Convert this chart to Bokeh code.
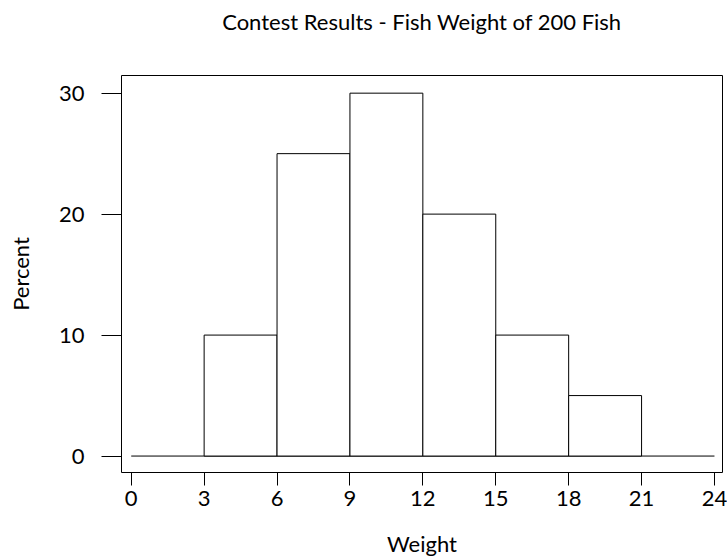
from bokeh.plotting import figure
from bokeh.models import Range1d, FixedTicker, Title
from bokeh.embed import file_html
from bokeh.resources import INLINE

# Data
bin_left = [0, 3, 6, 9, 12, 15, 18, 21]
bin_right = [3, 6, 9, 12, 15, 18, 21, 24]
percent = [0, 10, 25, 30, 20, 10, 5, 0]
x_ticks = [0, 3, 6, 9, 12, 15, 18, 21, 24]
y_ticks = [0, 10, 20, 30]
title_text = "Contest Results - Fish Weight of 200 Fish"

FONT = "Lato"
FS = "22px"

p = figure(width=727, height=559, output_backend="svg", toolbar_location=None,
           x_range=Range1d(-0.40, 24.33), y_range=Range1d(-1.36, 31.46),
           min_border_left=121, min_border_right=5, min_border_top=75, min_border_bottom=87,
           title=title_text)

p.background_fill_color = "white"
p.border_fill_color = "white"
p.outline_line_color = "black"
p.outline_line_width = 1
p.xgrid.visible = False
p.ygrid.visible = False

p.title.align = "center"
p.title.text_font = FONT
p.title.text_font_size = FS
p.title.text_font_style = "normal"
p.title.text_color = "black"
p.title.standoff = 10

# blank spacer between the frame and the title
p.add_layout(Title(text=" ", text_font_size="10px", standoff=23), "above")

# baseline across all bins (zero-height bins drawn as a flat line)
p.line(x=[bin_left[0], bin_right[-1]], y=[0, 0], line_color="black", line_width=1)

nz_l = [l for l, v in zip(bin_left, percent) if v > 0]
nz_r = [r for r, v in zip(bin_right, percent) if v > 0]
nz_v = [v for v in percent if v > 0]
p.quad(left=nz_l, right=nz_r, bottom=[0] * len(nz_v), top=nz_v,
       fill_color="white", line_color="black", line_width=1)

for ax, ticks, out, so in ((p.xaxis[0], x_ticks, 13, 5), (p.yaxis[0], y_ticks, 20, 17)):
    ax.ticker = FixedTicker(ticks=ticks)
    ax.axis_line_color = None
    ax.major_tick_in = 0
    ax.major_tick_out = out
    ax.major_tick_line_color = "black"
    ax.minor_tick_line_color = None
    ax.major_label_text_font = FONT
    ax.major_label_text_font_size = FS
    ax.major_label_text_color = "black"
    ax.major_label_standoff = so
    ax.axis_label_text_font = FONT
    ax.axis_label_text_font_size = FS
    ax.axis_label_text_font_style = "normal"
    ax.axis_label_text_color = "black"

p.xaxis.axis_label = "Weight"
p.yaxis.axis_label = "Percent"
p.xaxis.axis_label_standoff = 21
p.yaxis.axis_label_standoff = 22
p.yaxis.major_label_orientation = "horizontal"

open("out.html", "w").write(file_html(p, INLINE))
